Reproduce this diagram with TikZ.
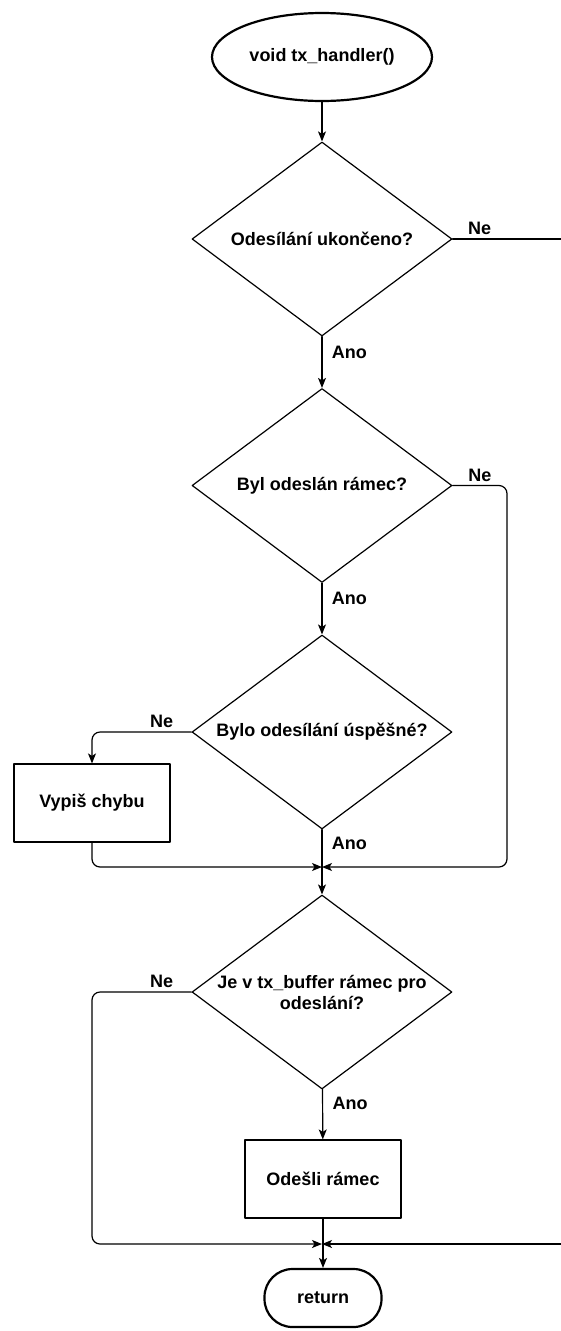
\documentclass[tikz,border=0pt]{standalone}
\usepackage{fontspec}
\setmainfont{Liberation Sans}
\usetikzlibrary{shapes.geometric,arrows.meta}
\begin{document}
\begin{tikzpicture}[x=1pt,y=-1pt,>={Stealth[length=10pt,width=8pt,inset=2.5pt]}, font=\fontsize{18}{21}\selectfont\bfseries, line join=round, line cap=round,
	dec/.style={draw,diamond,aspect=1.34,line width=1.2pt,minimum width=260pt,minimum height=194pt,inner sep=0pt,align=center},
	blok/.style={draw,rectangle,line width=1.2pt,minimum width=156pt,minimum height=78pt},
	term/.style={draw,line width=2.2pt},
	spoj/.style={line width=1.2pt,rounded corners=8pt},
	ano/.style={right=6pt}]
	\def\xr{561} \def\yb{1331}
	\useasboundingbox (0,0) rectangle (\xr,\yb);
	%\draw[color=gray!50,dashed] (0,0) grid[step=50] (\xr,\yb);
	\node[term,ellipse,minimum width=220pt,minimum height=88pt] (start) at (322,57) {void tx\_handler()};
	\node[dec] (konec) at (322,239) {Odesílání ukončeno?};
	\node[dec] (ramec) at (322,485.5) {Byl odeslán rámec?};
	\node[dec] (uspech) at (322,732) {Bylo odesílání úspěšné?};
	\node[blok] (chyba) at (92,803) {Vypiš chybu};
	\node[dec] (buffer) at (322,992) {Je v tx\_buffer rámec pro\\odeslání?};
	\node[blok] (odesli) at (323,1179) {Odešli rámec};
	\node[term,rectangle,rounded corners=28pt,minimum width=117pt,minimum height=58pt] (ret) at (323,1298) {return};
	\coordinate (j1) at (322,867);
	\coordinate (j2) at (322,1244);
	\coordinate (out1) at (\xr,239);
	\coordinate (out2) at (\xr,1244);
	\draw[spoj,->] (start) -- (konec);
	\draw[spoj] (konec.east) -- node[above,pos=0.25]{Ne} (out1);
	\draw[spoj,->] (konec) -- node[ano,pos=0.3]{Ano} (ramec);
	\draw[spoj,->] (ramec.east) -- node[above,pos=0.5]{Ne} (507,485.5) -- (507,867) -- (j1);
	\draw[spoj,->] (ramec) -- node[ano,pos=0.3]{Ano} (uspech);
	\draw[spoj,->] (uspech.west) -- node[above,pos=0.3]{Ne} (92,732) -- (chyba.north);
	\draw[spoj,->] (chyba.south) -- (92,867) -- (j1);
	\draw[spoj,->] (uspech) -- node[ano,pos=0.22]{Ano} (buffer);
	\draw[spoj,->] (buffer.west) -- node[above,pos=0.3]{Ne} (92,992) -- (92,1244) -- (j2);
	\draw[spoj,->] (buffer) -- node[ano,pos=0.28]{Ano} (odesli);
	\draw[spoj,->] (out2) -- (j2);
	\draw[spoj,->] (odesli) -- (ret);
\end{tikzpicture}
\end{document}
